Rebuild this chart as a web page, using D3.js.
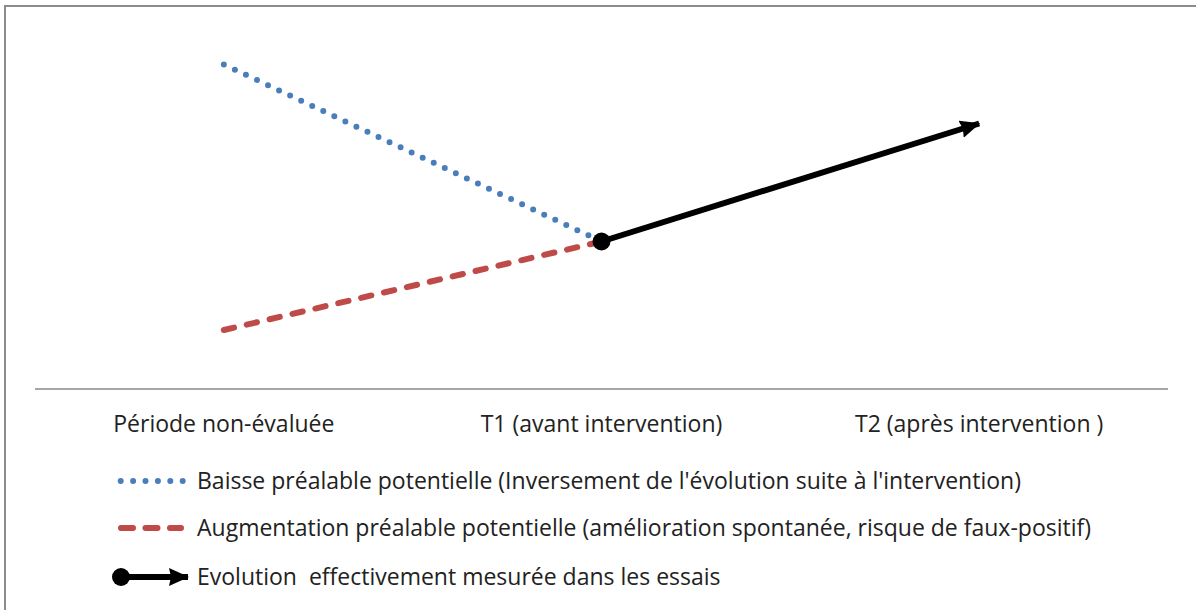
<!DOCTYPE html>
<html>
<head>
<meta charset="utf-8">
<script src="https://cdn.jsdelivr.net/npm/d3@7"></script>
<style>
  body { margin: 0; background: #fff; }
  svg text { font-family: "Open Sans", "Noto Sans", sans-serif; fill: #222; white-space: pre; }
</style>
</head>
<body>
<svg id="chart" width="1196" height="610"></svg>
<script>
// categories on the x axis
const categories = ["Période non-évaluée", "T1 (avant intervention)", "T2 (après intervention )"];
// series values (null = no point)
const baisseValues = [5.5, 2.5, null];
const hausseValues = [1, 2.5, null];
const mesureValues = [null, 2.5, 4.5];
const legendLabels = [
    "Baisse préalable potentielle (Inversement de l'évolution suite à l'intervention)",
    "Augmentation préalable potentielle (amélioration spontanée, risque de faux-positif)",
    "Evolution  effectivement mesurée dans les essais"
];

var svg = d3.select("#chart");
var W = 1196, H = 610;

// outer frame (runs off the right and bottom edges)
svg.append("rect")
    .attr("x", 5).attr("y", 6)
    .attr("width", W + 10).attr("height", H + 10)
    .attr("fill", "none")
    .attr("stroke", "#8c8c8c")
    .attr("stroke-width", 2);

var x = d3.scaleBand().domain(categories).range([35, 1168]);
var y = d3.scaleLinear().domain([0, 6]).range([389, 35]);
var cx = function(c) { return x(c) + x.bandwidth() / 2; };

// arrow head
var defs = svg.append("defs");
defs.append("marker")
    .attr("id", "arrow")
    .attr("markerUnits", "userSpaceOnUse")
    .attr("viewBox", "0 0 20 18")
    .attr("refX", 19).attr("refY", 9)
    .attr("markerWidth", 20).attr("markerHeight", 18)
    .attr("orient", "auto")
    .append("path")
    .attr("d", "M0,0 L20,9 L0,18 L2,9 Z")
    .attr("fill", "#000");

// axis line
svg.append("line")
    .attr("x1", x.range()[0]).attr("x2", x.range()[1])
    .attr("y1", y(0)).attr("y2", y(0))
    .attr("stroke", "#a6a6a6")
    .attr("stroke-width", 2);

svg.selectAll("text.cat")
    .data(categories)
    .enter().append("text")
    .attr("class", "cat")
    .attr("x", cx)
    .attr("y", 432)
    .attr("text-anchor", "middle")
    .style("font-size", "23px")
    .text(function(d) { return d; });

function toPts(values) {
    return values.map(function(v, i) { return {c: categories[i], v: v}; })
        .filter(function(d) { return d.v !== null; });
}
var line = d3.line().x(function(d) { return cx(d.c); }).y(function(d) { return y(d.v); });

var styles = [
    {stroke: "#4a7ebb", dash: "0 12.2", width: 6},
    {stroke: "#be4b48", dash: "10.5 13", width: 6},
    {stroke: "#000", dash: null, width: 6}
];

svg.append("path")
    .attr("d", line(toPts(baisseValues)))
    .attr("fill", "none").attr("stroke", styles[0].stroke)
    .attr("stroke-width", styles[0].width).attr("stroke-linecap", "round")
    .attr("stroke-dasharray", styles[0].dash);

svg.append("path")
    .attr("d", line(toPts(hausseValues)))
    .attr("fill", "none").attr("stroke", styles[1].stroke)
    .attr("stroke-width", styles[1].width).attr("stroke-linecap", "round")
    .attr("stroke-dasharray", styles[1].dash);

var mpts = toPts(mesureValues);
svg.append("path")
    .attr("d", line(mpts))
    .attr("fill", "none").attr("stroke", "#000")
    .attr("stroke-width", styles[2].width)
    .attr("marker-end", "url(#arrow)");
svg.append("circle")
    .attr("cx", cx(mpts[0].c)).attr("cy", y(mpts[0].v))
    .attr("r", 9).attr("fill", "#000");

// legend
var legend = svg.append("g");
var rows = [481, 528, 577];
legendLabels.forEach(function(lbl, i) {
    var g = legend.append("g").attr("transform", "translate(0," + rows[i] + ")");
    if (i == 0) {
        g.append("line")
            .attr("x1", 120.7).attr("x2", 184)
            .attr("y1", 0).attr("y2", 0)
            .attr("stroke", styles[i].stroke).attr("stroke-width", 6)
            .attr("stroke-linecap", "round")
            .attr("stroke-dasharray", "0 12.4");
    } else if (i == 1) {
        g.append("line")
            .attr("x1", 121).attr("x2", 181)
            .attr("y1", 0).attr("y2", 0)
            .attr("stroke", styles[i].stroke).attr("stroke-width", 6)
            .attr("stroke-linecap", "round")
            .attr("stroke-dasharray", "12 12.5");
    } else {
        g.append("line")
            .attr("x1", 120).attr("x2", 188)
            .attr("y1", 0).attr("y2", 0)
            .attr("stroke", "#000").attr("stroke-width", 6)
            .attr("marker-end", "url(#arrow)");
        g.append("circle").attr("cx", 121).attr("cy", 0).attr("r", 9).attr("fill", "#000");
    }
    g.append("text")
        .attr("x", 197).attr("y", 8)
        .style("font-size", "23px")
        .text(lbl);
});
</script>
</body>
</html>
